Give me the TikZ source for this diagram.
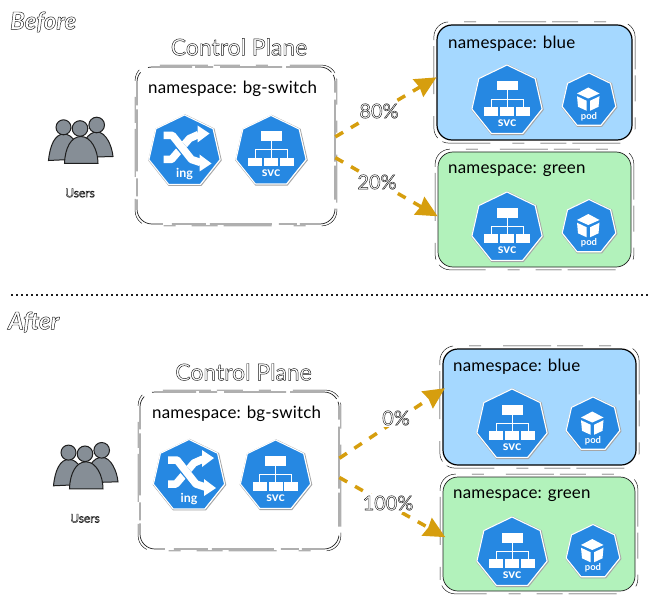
\documentclass[tikz,border=0pt]{standalone}
\usepackage{fontspec}
\setmainfont{Lato}
\usetikzlibrary{shapes.geometric,arrows.meta}
\definecolor{ink}{HTML}{1E1E1E}
\definecolor{kblue}{HTML}{2688E2}
\definecolor{nsblue}{HTML}{A5D8FF}
\definecolor{nsgreen}{HTML}{B2F2BB}
\definecolor{gold}{HTML}{D69E0E}
\definecolor{person}{HTML}{868E96}
\newcommand{\outlined}[1]{\special{pdf:code 1 Tr 0.45 w 0.1 0.1 0.1 RG}#1\special{pdf:code 0 Tr}}
\tikzset{
  sketchA/.style={draw=ink,line width=0.7bp,rounded corners=15bp,dash pattern=on 34bp off 4bp on 62bp off 7bp on 18bp off 3bp on 44bp off 9bp},
  sketchB/.style={draw=ink,line width=0.5bp,rounded corners=15bp,dash pattern=on 12bp off 22bp on 48bp off 6bp on 26bp off 16bp},
  plainbox/.style={rectangle,rounded corners=15bp,sketchA,fill=white,inner sep=0pt},
  nsbox/.style={rectangle,rounded corners=15bp,inner sep=0pt},
  nslabel/.style={anchor=west,inner sep=0pt,text=black,font=\fontsize{17}{18}\selectfont\addfontfeature{LetterSpace=1}},
  hand/.style={inner sep=0pt,font=\fontsize{#1}{#1}\selectfont},
  handit/.style={inner sep=0pt,font=\fontsize{#1}{#1}\selectfont\itshape\bfseries},
  kpoly/.style={regular polygon,regular polygon sides=7,inner sep=0pt,outer sep=0pt,fill=kblue,draw=white,line width=1.1bp},
  kshadow/.style={regular polygon,regular polygon sides=7,inner sep=0pt,outer sep=0pt,draw=black!35,line width=1.1bp},
  klabel/.style={inner sep=0pt,text=white,font=\fontsize{#1}{#1}\selectfont\bfseries},
  flow/.style={draw=gold,line width=3.5bp,dash pattern=on 9bp off 9bp,-{Stealth[length=21bp,width=20bp,inset=1.5bp]}},
  pct/.style={fill=white,inner sep=1.5pt,font=\fontsize{20}{20}\selectfont},
  body/.style={fill=person,draw=ink,line width=1bp},
  divider/.style={draw=ink,line width=1.8bp,dash pattern=on 1.8bp off 3.2bp},
}
% name, x, y, R
\newcommand{\kbase}[4]{%
  \node[kshadow,minimum size=#4*2bp+1.2bp] (#1s) at (#2+0.5,#3+0.5) {};
  \node[kpoly,minimum size=#4*2bp] (#1) at (#2,#3) {};
}
\newcommand{\ksvc}[3]{%
  \kbase{#1}{#2}{#3}{36}
  \begin{scope}[shift={(#2,#3)}]
    \fill[white] (-10.5,-20) rectangle (10.5,-10.5);
    \fill[white] (-22.7,6.3) rectangle (-8.7,15);
    \fill[white] (-7,6.3) rectangle (7,15);
    \fill[white] (8.7,6.3) rectangle (22.5,15);
    \draw[white,line width=0.8bp] (0,-10.5) -- (0,6.3) (-16,6.3) -- (-16,-1.7) -- (16,-1.7) -- (16,6.3);
  \end{scope}
  \node[klabel=13] (#1t) at (#2,#3+22) {svc};
}
\newcommand{\king}[3]{%
  \kbase{#1}{#2}{#3}{36.5}
  \begin{scope}[shift={(#2,#3)}]
    \draw[white,line width=7.5bp,line join=round] (-21,8) -- (-13,8) -- (5,-13) -- (14,-17);
    \fill[white] (13,-26) -- (25,-18) -- (13,-9) -- cycle;
    \draw[kblue,line width=8.8bp] (-5.5,-6.5) -- (3.5,4);
    \draw[white,line width=7.5bp,line join=round] (-21,-16) -- (-12,-16) -- (7,8) -- (16,11);
    \fill[white] (15,3) -- (27,12) -- (15,20) -- cycle;
  \end{scope}
  \node[klabel=12.5] (#1t) at (#2,#3+23) {ing};
}
\newcommand{\kpod}[3]{%
  \kbase{#1}{#2}{#3}{27.5}
  \begin{scope}[shift={(#2,#3)}]
    \fill[white] (-12,-7) -- (-0.7,-13) -- (10.5,-7) -- (-0.7,-2) -- cycle;
    \fill[white] (-12,-4.3) -- (-2.3,0.3) -- (-2.3,10.3) -- (-11,6.3) -- cycle;
    \fill[white] (1,0.3) -- (10.5,-4.3) -- (9.5,6.3) -- (1,10.3) -- cycle;
  \end{scope}
  \node[klabel=9.5] (#1t) at (#2,#3+16) {pod};
}
\newcommand{\kpeople}[3]{%
  \begin{scope}[shift={(#2,#3)}]
    \draw[body] (48.5,160.5) .. controls (50,145) and (55,134) .. (64,134) .. controls (73,134) and (80,147) .. (81,159) -- cycle;
    \draw[body] (80,157.5) .. controls (82,142) and (88,132) .. (97,132) .. controls (106,132) and (112,146) .. (113,156.5) -- cycle;
    \draw[body] (64.5,163.5) .. controls (65,148) and (71,136.5) .. (81,136.5) .. controls (91,136.5) and (98,150) .. (98,163.5) -- cycle;
    \draw[body] (63.5,127.3) circle (7.5);
    \draw[body] (96.7,125) circle (7.8);
    \draw[body] (80,128.5) circle (7.8);
  \end{scope}
  \node[hand=12] (#1) at (#2+80,#3+193) {\outlined{Users}};
}
\begin{document}
\begin{tikzpicture}[x=1bp,y=-1bp]
\useasboundingbox (0,0) rectangle (652,604);
% ---------- Before
\node[handit=24,anchor=west] (before) at (10,22) {\outlined{Before}};
\node[hand=23] (cpAt) at (239,47) {\outlined{Control Plane}};
\kpeople{usersA}{0}{0}
\node[plainbox,minimum width=198bp,minimum height=157bp] (cpA) at (236,145.5) {};
\draw[sketchB] ([xshift=-1.5bp,yshift=-1.5bp]cpA.south west) rectangle ([xshift=1.5bp,yshift=1.5bp]cpA.north east);
\node[nslabel] (cpAl) at (148,88.5) {namespace: bg-switch};
\king{ingA}{184.5}{151.5}
\ksvc{svcA}{271}{151.5}
\node[nsbox,fill=nsblue,draw=black,line width=1.2bp,minimum width=195bp,minimum height=115bp] (blueA) at (534.5,82.5) {};
\draw[sketchB] ([xshift=-2.5bp,yshift=-2.5bp]blueA.south west) rectangle ([xshift=2.5bp,yshift=2.5bp]blueA.north east);
\node[nslabel] (blueAl) at (448,43.5) {namespace: blue};
\ksvc{svcAb}{507}{101}
\kpod{podAb}{589}{100.5}
\node[nsbox,fill=nsgreen,draw=ink,line width=0.7bp,minimum width=193bp,minimum height=115bp] (greenA) at (534.5,209.5) {};
\draw[sketchB] ([xshift=-2.5bp,yshift=-2.5bp]greenA.south west) rectangle ([xshift=2.5bp,yshift=2.5bp]greenA.north east);
\node[nslabel] (greenAl) at (448,171) {namespace: green};
\ksvc{svcAg}{507}{228}
\kpod{podAg}{589}{227}
\draw[flow] (cpA.5) -- (blueA.177.4);
\draw[flow] (cpA.-7) -- (greenA.184.4);
\node[pct] (pctA1) at (379,111) {\outlined{80\%}};
\node[pct] (pctA2) at (377,182) {\outlined{20\%}};
% ---------- divider
\coordinate (divL) at (11,295);
\coordinate (divR) at (651,295);
\draw[divider] (divL) -- (divR);
% ---------- After
\node[handit=24,anchor=west] (after) at (8,322) {\outlined{After}};
\node[hand=23] (cpBt) at (243.5,372) {\outlined{Control Plane}};
\kpeople{usersB}{5}{325.3}
\node[plainbox,minimum width=199bp,minimum height=157bp] (cpB) at (239.5,470.5) {};
\draw[sketchB] ([xshift=-1.5bp,yshift=-1.5bp]cpB.south west) rectangle ([xshift=1.5bp,yshift=1.5bp]cpB.north east);
\node[nslabel] (cpBl) at (152,413.5) {namespace: bg-switch};
\king{ingB}{189}{476}
\ksvc{svcB}{275.5}{476}
\node[nsbox,fill=nsblue,draw=black,line width=1.2bp,minimum width=193bp,minimum height=116bp] (blueB) at (539.5,407) {};
\draw[sketchB] ([xshift=-2.5bp,yshift=-2.5bp]blueB.south west) rectangle ([xshift=2.5bp,yshift=2.5bp]blueB.north east);
\node[nslabel] (blueBl) at (453,366.5) {namespace: blue};
\ksvc{svcBb}{512}{425}
\kpod{podBb}{593}{424.5}
\node[nsbox,fill=nsgreen,draw=ink,line width=0.7bp,minimum width=192bp,minimum height=114bp] (greenB) at (539,534) {};
\draw[sketchB] ([xshift=-2.5bp,yshift=-2.5bp]greenB.south west) rectangle ([xshift=2.5bp,yshift=2.5bp]greenB.north east);
\node[nslabel] (greenBl) at (453,496) {namespace: green};
\ksvc{svcBg}{512}{553}
\kpod{podBg}{593}{552}
\draw[flow,shorten >=-3bp] (cpB.7) -- (blueB.170);
\draw[flow,shorten >=-3bp] (cpB.-4.3) -- (greenB.181.8);
\node[pct] (pctB1) at (396,418) {\outlined{0\%}};
\node[pct] (pctB2) at (388,503) {\outlined{100\%}};
\end{tikzpicture}
\end{document}
